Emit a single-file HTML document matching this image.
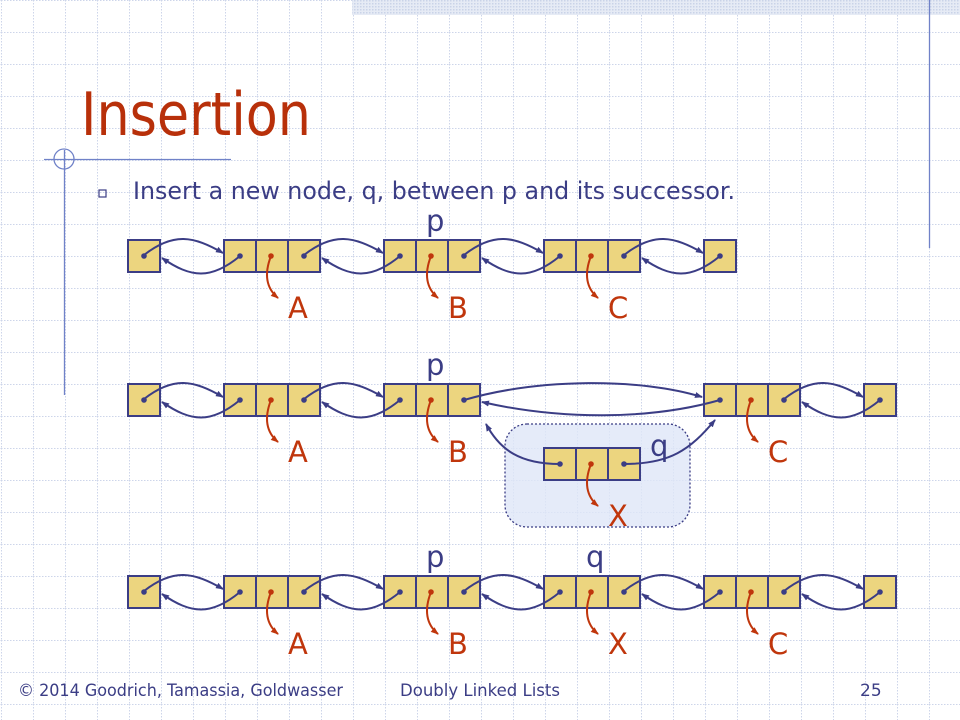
<!DOCTYPE html>
<html><head><meta charset="utf-8"><style>
body{margin:0;width:960px;height:720px;overflow:hidden;background:#fff;font-family:"DejaVu Sans","Liberation Sans",sans-serif}
svg{display:block}
</style></head><body>
<svg id="s" width="960" height="720" xmlns="http://www.w3.org/2000/svg">
<defs>
<pattern id="grid" width="32" height="32" patternUnits="userSpaceOnUse" x="1" y="0">
<path d="M0 0.5H32M0.5 0V32" stroke="#cdd5ea" stroke-width="1" stroke-dasharray="1.5 1.5" fill="none"/>
</pattern>
<pattern id="chk" width="3" height="3" patternUnits="userSpaceOnUse"><rect width="3" height="3" fill="#e6ebf5"/><rect width="1.5" height="1.5" fill="#c9d3e8"/></pattern>
<marker id="ab" markerWidth="8" markerHeight="8" refX="7" refY="4" orient="auto" markerUnits="userSpaceOnUse"><path d="M0 1L8 4L0 7Z" fill="#3b3d85"/></marker>
<marker id="ar" markerWidth="8" markerHeight="8" refX="7" refY="4" orient="auto" markerUnits="userSpaceOnUse"><path d="M0 1L8 4L0 7Z" fill="#c0360c"/></marker>
</defs>
<rect width="960" height="720" fill="url(#grid)"/>
<rect x="352" y="0" width="608" height="15" fill="url(#chk)"/>
<line x1="929.5" y1="0" x2="929.5" y2="248" stroke="#7082c8" stroke-width="1.3"/>
<line x1="64.5" y1="150" x2="64.5" y2="395" stroke="#7082c8" stroke-width="1.3"/>
<line x1="44" y1="159.5" x2="231" y2="159.5" stroke="#7082c8" stroke-width="1.3"/>
<circle cx="64" cy="159" r="10" fill="none" stroke="#7082c8" stroke-width="1.3"/>
<text x="81" y="135" font-family="DejaVu Sans, sans-serif" font-size="60" fill="#b8300a" textLength="230" lengthAdjust="spacingAndGlyphs">Insertion</text>
<rect x="99" y="190" width="7" height="7" fill="none" stroke="#3b3d85" stroke-width="1.2"/>
<text x="133" y="199" font-size="24" fill="#3b3d85" textLength="602" lengthAdjust="spacingAndGlyphs">Insert a new node, q, between p and its successor.</text>
<g id="diag"></g>
<rect x="505" y="424" width="185" height="103" rx="22" fill="#dfe6f8" fill-opacity="0.8" stroke="#3b3d85" stroke-width="1.3" stroke-dasharray="2 2" id="hl"/>
<g id="diag2"></g>
<text x="18" y="696" font-size="17" fill="#3b3d85" textLength="325" lengthAdjust="spacingAndGlyphs">© 2014 Goodrich, Tamassia, Goldwasser</text>
<text x="400" y="696" font-size="17" fill="#3b3d85" textLength="160" lengthAdjust="spacingAndGlyphs">Doubly Linked Lists</text>
<text x="860" y="696" font-size="17" fill="#3b3d85">25</text>
</svg>
<script>
const rowY=[240,384,576];
const row1=[["h",128],["A",224],["B",384],["C",544],["t",704]];
const row2=[["h",128],["A",224],["B",384],["C",704],["t",864]];
const row3=[["h",128],["A",224],["B",384],["X",544],["C",704],["t",864]];
const topLabels=[["p",0,384],["p",1,384],["p",2,384],["q",2,544]];
const NS="http://www.w3.org/2000/svg";
const g=document.getElementById('diag');
function el(t,a,parent){const e=document.createElementNS(NS,t);for(const k in a)e.setAttribute(k,a[k]);(parent||g).appendChild(e);return e;}
function txt(x,y,s,c,sz,parent){const e=el('text',{x:x,y:y,'font-size':sz,fill:c},parent);e.textContent=s;return e;}
function node(kind,x,y,parent){
  const n=kind==='h'||kind==='t'?1:3;
  for(let i=0;i<n;i++){
    const r=el('rect',{x:x+i*32,y:y,width:32,height:32,fill:'#ecd57f',stroke:'#3b3d85','stroke-width':2},parent);
    
    
  }
  if(n===1){el('circle',{cx:x+16,cy:y+16,r:2.8,fill:'#3b3d85'},parent);}
  else{
    el('circle',{cx:x+16,cy:y+16,r:2.8,fill:'#3b3d85'},parent);
    el('circle',{cx:x+80,cy:y+16,r:2.8,fill:'#3b3d85'},parent);
    el('circle',{cx:x+47,cy:y+16,r:2.8,fill:'#c0360c'},parent);
    el('path',{d:`M${x+47} ${y+16}C${x+40} ${y+34} ${x+42} ${y+48} ${x+54} ${y+58}`,fill:'none',stroke:'#c0360c','stroke-width':2,'marker-end':'url(#ar)'},parent);
    const l=txt(x+64,y+78,kind,'#c0360c',29,parent);
    
    
  }
}
function right(k,x){return x+(k==='h'||k==='t'?16:80);}
function end(k,x){return x+(k==='h'||k==='t'?32:96);}
function links(row,y,parent){
  for(let i=0;i<row.length-1;i++){
    const [k1,x1]=row[i],[k2,x2]=row[i+1];
    const sx=right(k1,x1),ex=x2-1,m=(sx+ex)/2;
    el('path',{d:`M${sx} ${y+15}C${m-10} ${y-8} ${m+10} ${y-4} ${ex} ${y+13}`,fill:'none',stroke:'#3b3d85','stroke-width':2,'marker-end':'url(#ab)'},parent);
    const px=x2+16,pe=end(k1,x1)+2,m2=(px+pe)/2;
    el('path',{d:`M${px} ${y+16}C${m2+10} ${y+40} ${m2-10} ${y+38} ${pe} ${y+18}`,fill:'none',stroke:'#3b3d85','stroke-width':2,'marker-end':'url(#ab)'},parent);
  }
}
function drawRow(row,y,skip,parent){
  row.forEach(([k,x])=>node(k,x,y,parent));
  if(skip){links(row.slice(0,3),y,parent);links(row.slice(3),y,parent);}
  else links(row,y,parent);
}
drawRow(row1,rowY[0],false);
drawRow(row2,rowY[1],true);
const y2=rowY[1];
el('path',{d:`M464 ${y2+16}C540 ${y2-6} 640 ${y2-6} 702 ${y2+13}`,fill:'none',stroke:'#3b3d85','stroke-width':2,'marker-end':'url(#ab)'});
el('path',{d:`M720 ${y2+16}C650 ${y2+36} 560 ${y2+36} 482 ${y2+18}`,fill:'none',stroke:'#3b3d85','stroke-width':2,'marker-end':'url(#ab)'});
drawRow(row3,rowY[2],false);
topLabels.forEach(([s,r,x])=>{const t=txt(x+42,rowY[r]-9,s,'#3b3d85',29);});
const g2=document.getElementById('diag2');
node('X',544,448,g2);
el('path',{d:`M560 464C520 464 500 450 486 424`,fill:'none',stroke:'#3b3d85','stroke-width':2,'marker-end':'url(#ab)'},g2);
el('path',{d:`M624 464C670 464 690 450 715 420`,fill:'none',stroke:'#3b3d85','stroke-width':2,'marker-end':'url(#ab)'},g2);
const q=txt(650,456,'q','#3b3d85',29,g2);


</script>
</body></html>
